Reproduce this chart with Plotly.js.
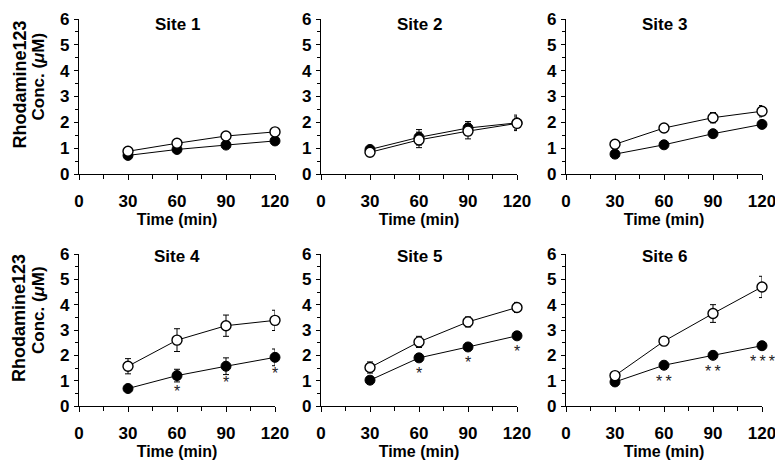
<!DOCTYPE html>
<html>
<head>
<meta charset="utf-8">
<script src="https://cdn.plot.ly/plotly-3.0.1.min.js"></script>
<style>html,body{margin:0;padding:0;background:#fff}#chart{width:775px;height:460px}</style>
</head>
<body>
<div id="chart"></div>
<script>
const time = [30, 60, 90, 120];
const xTickVals = [0, 30, 60, 90, 120];
const yTickVals = [0, 1, 2, 3, 4, 5, 6];
const siteNames = ["Site 1", "Site 2", "Site 3", "Site 4", "Site 5", "Site 6"];

const s1Filled = [0.72, 0.95, 1.12, 1.28];
const s1FilledErr = [0.05, 0.08, 0.12, 0.08];
const s1Open = [0.88, 1.19, 1.47, 1.63];
const s1OpenErr = [0.05, 0.08, 0.10, 0.08];

const s2Filled = [0.95, 1.42, 1.78, 1.98];
const s2FilledErr = [0.08, 0.30, 0.25, 0.30];
const s2Open = [0.84, 1.32, 1.66, 1.96];
const s2OpenErr = [0.08, 0.30, 0.30, 0.25];

const s3Filled = [0.77, 1.13, 1.56, 1.92];
const s3FilledErr = [0.06, 0.08, 0.10, 0.12];
const s3Open = [1.15, 1.78, 2.18, 2.43];
const s3OpenErr = [0.08, 0.10, 0.20, 0.22];

const s4Filled = [0.69, 1.20, 1.57, 1.92];
const s4FilledErr = [0.08, 0.25, 0.33, 0.33];
const s4Open = [1.57, 2.60, 3.17, 3.38];
const s4OpenErr = [0.30, 0.45, 0.42, 0.40];

const s5Filled = [1.02, 1.90, 2.33, 2.77];
const s5FilledErr = [0.06, 0.10, 0.10, 0.12];
const s5Open = [1.52, 2.53, 3.32, 3.89];
const s5OpenErr = [0.22, 0.22, 0.20, 0.20];

const s6Filled = [0.95, 1.61, 2.00, 2.38];
const s6FilledErr = [0.06, 0.08, 0.08, 0.10];
const s6Open = [1.20, 2.56, 3.65, 4.70];
const s6OpenErr = [0.10, 0.10, 0.35, 0.42];

const s4Stars = ["", "*", "*", "*"];
const s5Stars = ["", "*", "*", "*"];
const s6Stars = ["", "**", "**", "***"];

const filledSets = [s1Filled, s2Filled, s3Filled, s4Filled, s5Filled, s6Filled];
const filledErrs = [s1FilledErr, s2FilledErr, s3FilledErr, s4FilledErr, s5FilledErr, s6FilledErr];
const openSets = [s1Open, s2Open, s3Open, s4Open, s5Open, s6Open];
const openErrs = [s1OpenErr, s2OpenErr, s3OpenErr, s4OpenErr, s5OpenErr, s6OpenErr];
const starSets = [null, null, null, s4Stars, s5Stars, s6Stars];

const W = 775, H = 460;
const colPx = [[79, 275], [321, 517], [566, 762]];
const rowPx = [[19, 174], [254, 406]];
const FONT = "Liberation Sans, Arial, sans-serif";

const traces = [];
const layout = {
  width: W, height: H,
  margin: {l: 0, r: 0, t: 0, b: 0},
  paper_bgcolor: "#fff", plot_bgcolor: "#fff",
  showlegend: false,
  font: {family: FONT, color: "#000"},
  annotations: []
};

for (let i = 0; i < 6; i++) {
  const r = Math.floor(i / 3), c = i % 3;
  const xa = i === 0 ? "x" : "x" + (i + 1);
  const ya = i === 0 ? "y" : "y" + (i + 1);
  const xKey = i === 0 ? "xaxis" : "xaxis" + (i + 1);
  const yKey = i === 0 ? "yaxis" : "yaxis" + (i + 1);
  const xd = [colPx[c][0] / W, colPx[c][1] / W];
  const yd = [1 - rowPx[r][1] / H, 1 - rowPx[r][0] / H];

  layout[xKey] = {
    domain: xd, anchor: ya, range: [0, 120],
    tickmode: "array", tickvals: xTickVals, ticktext: xTickVals.map(v => "<b>" + v + "</b>"),
    ticks: "outside", ticklen: 5, tickwidth: 1, tickcolor: "#000",
    minor: {tickvals: [15, 45, 75, 105], ticks: "outside", ticklen: 4, tickwidth: 1, tickcolor: "#000"},
    showline: true, linecolor: "#000", linewidth: 1.2,
    showgrid: false, zeroline: false,
    tickfont: {family: FONT, size: 17, color: "#000", weight: 700},
    ticklabelstandoff: 6, ticklabeloverflow: "allow",
    title: {text: "<b>Time (min)</b>", font: {family: FONT, size: 16, color: "#000"}, standoff: 2},
    fixedrange: true
  };
  layout[yKey] = {
    domain: yd, anchor: xa, range: [0, 6],
    tickmode: "array", tickvals: yTickVals, ticktext: yTickVals.map(v => "<b>" + v + "</b>"),
    ticks: "outside", ticklen: 4, tickwidth: 1, tickcolor: "#000",
    minor: {tickvals: [0.5, 1.5, 2.5, 3.5, 4.5, 5.5], ticks: "outside", ticklen: 3, tickwidth: 1, tickcolor: "#000"},
    showline: true, linecolor: "#000", linewidth: 1.2,
    showgrid: false, zeroline: false,
    tickfont: {family: FONT, size: 17, color: "#000", weight: 700},
    ticklabelstandoff: 1, ticklabeloverflow: "allow",
    fixedrange: true
  };

  traces.push({
    x: time, y: filledSets[i], xaxis: xa, yaxis: ya, type: "scatter", mode: "lines+markers",
    line: {color: "#000", width: 1},
    marker: {symbol: "circle", size: 10, color: "#000", line: {color: "#000", width: 1}},
    error_y: {type: "data", array: filledErrs[i], visible: true, color: "#000", thickness: 1, width: 3},
    cliponaxis: false, hoverinfo: "skip"
  });
  traces.push({
    x: time, y: openSets[i], xaxis: xa, yaxis: ya, type: "scatter", mode: "lines+markers",
    line: {color: "#000", width: 1},
    marker: {symbol: "circle", size: 10, color: "#fff", line: {color: "#000", width: 1.4}},
    error_y: {type: "data", array: openErrs[i], visible: true, color: "#000", thickness: 1, width: 3},
    cliponaxis: false, hoverinfo: "skip"
  });

  layout.annotations.push({
    text: "<b>" + siteNames[i] + "</b>", xref: "paper", yref: "paper",
    x: (xd[0] + xd[1]) / 2, y: 1 - (r === 0 ? 24 : 256) / H,
    xanchor: "center", yanchor: "middle", showarrow: false,
    font: {family: FONT, size: 17, color: "#000"}
  });

  if (starSets[i]) {
    for (let k = 0; k < time.length; k++) {
      if (!starSets[i][k]) continue;
      layout.annotations.push({
        text: starSets[i][k].split("").join("\u2009"), xref: xa, yref: ya, x: time[k], y: filledSets[i][k],
        yshift: -16, xanchor: "center", yanchor: "middle", showarrow: false,
        font: {family: FONT, size: 16, color: "#222"}
      });
    }
  }

  if (c === 0) {
    const mid = (rowPx[r][0] + rowPx[r][1]) / 2;
    layout.annotations.push({
      text: "<b>Rhodamine123</b>", xref: "paper", yref: "paper",
      x: 19 / W, y: 1 - (mid - 12) / H, textangle: -90,
      xanchor: "center", yanchor: "middle", showarrow: false,
      font: {family: FONT, size: 18, color: "#000"}
    });
    layout.annotations.push({
      text: "<b>Conc. (<i>μ</i>M)</b>", xref: "paper", yref: "paper",
      x: 38 / W, y: 1 - (mid - 20) / H, textangle: -90,
      xanchor: "center", yanchor: "middle", showarrow: false,
      font: {family: FONT, size: 17, color: "#000"}
    });
  }
}

Plotly.newPlot("chart", traces, layout, {staticPlot: true});
</script>
</body>
</html>
